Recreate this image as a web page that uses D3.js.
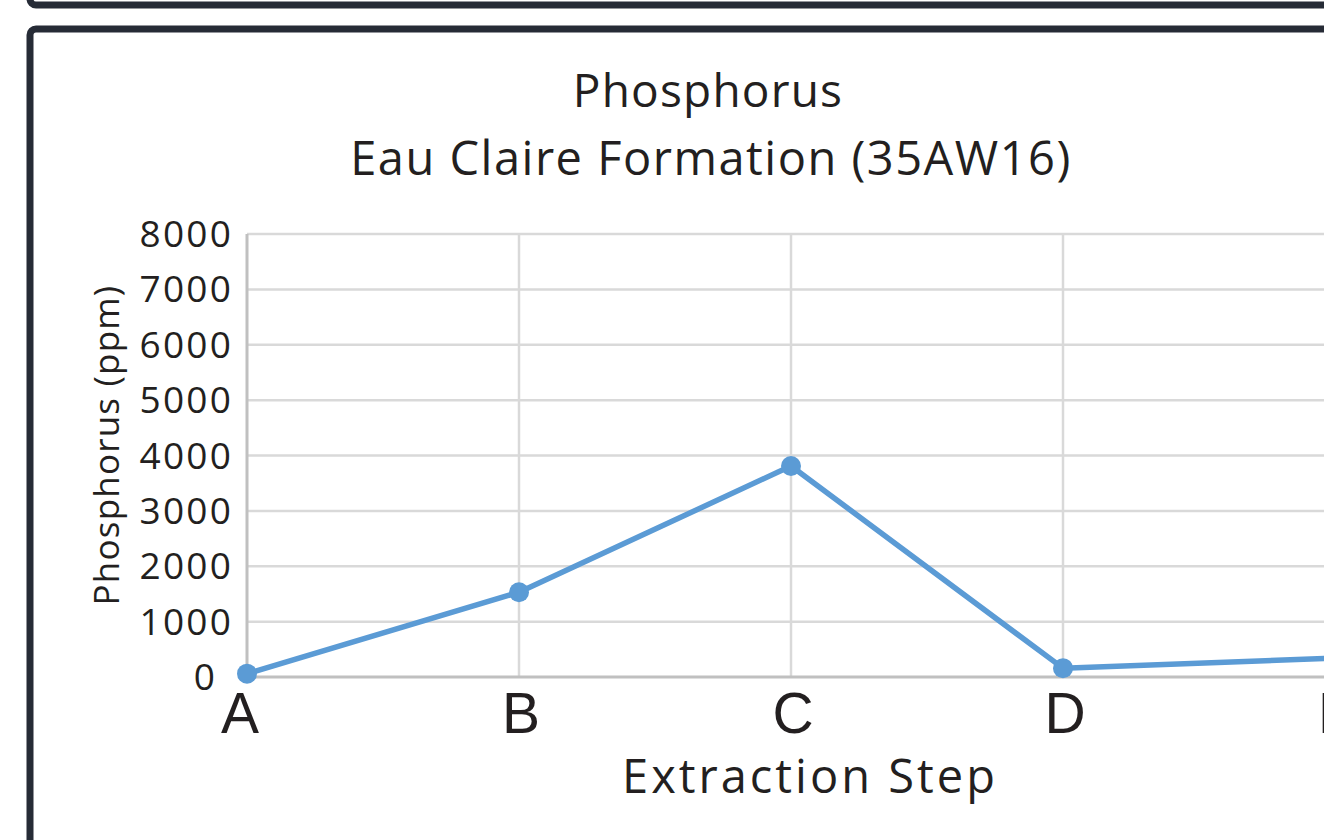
<!DOCTYPE html>
<html>
<head>
<meta charset="utf-8">
<script src="https://cdn.jsdelivr.net/npm/d3@7"></script>
<style>
  body { margin: 0; background: #fff; }
  svg { display: block; }
</style>
</head>
<body>
<svg id="chart" width="1324" height="840"></svg>
<script>
var steps = ["A", "B", "C", "D", "E"];
var phosphorus = [60, 1530, 3810, 160, 340];
var yTicks = [0, 1000, 2000, 3000, 4000, 5000, 6000, 7000, 8000];

var svg = d3.select("#chart");

// frames (previous panel's bottom edge + this panel)
svg.append("rect")
  .attr("x", 30).attr("y", -200)
  .attr("width", 1400).attr("height", 205)
  .attr("rx", 6)
  .attr("fill", "none")
  .attr("stroke", "#262b36")
  .attr("stroke-width", 7);

svg.append("rect")
  .attr("x", 30).attr("y", 29)
  .attr("width", 1400).attr("height", 900)
  .attr("rx", 6)
  .attr("fill", "none")
  .attr("stroke", "#262b36")
  .attr("stroke-width", 7);

var x = d3.scalePoint().domain(steps).range([247, 1335]);
var y = d3.scaleLinear().domain([0, 8000]).range([677, 234]);

var font = "'Open Sans', sans-serif";
var ink = "#231f20";

// horizontal gridlines
svg.append("g").selectAll("line")
  .data(yTicks.filter(function(d){ return d > 0; }))
  .join("line")
  .attr("x1", x("A")).attr("x2", 1324)
  .attr("y1", function(d){ return y(d); })
  .attr("y2", function(d){ return y(d); })
  .attr("stroke", "#d9d9d9")
  .attr("stroke-width", 2.5);

// vertical gridlines
svg.append("g").selectAll("line")
  .data(steps.slice(1))
  .join("line")
  .attr("x1", function(d){ return x(d); })
  .attr("x2", function(d){ return x(d); })
  .attr("y1", y(8000)).attr("y2", y(0))
  .attr("stroke", "#d9d9d9")
  .attr("stroke-width", 2.5);

// axis lines
svg.append("line")
  .attr("x1", x("A")).attr("x2", x("A"))
  .attr("y1", y(8000)).attr("y2", y(0))
  .attr("stroke", "#c0c0c0").attr("stroke-width", 3);
svg.append("line")
  .attr("x1", x("A")).attr("x2", 1324)
  .attr("y1", y(0)).attr("y2", y(0))
  .attr("stroke", "#c0c0c0").attr("stroke-width", 3);

// y tick labels
svg.append("g").selectAll("text")
  .data(yTicks)
  .join("text")
  .attr("x", function(d){ return d === 0 ? 217 : 233; })
  .attr("y", function(d){ return y(d) + 13; })
  .attr("text-anchor", "end")
  .attr("font-family", font)
  .attr("font-size", 37)
  .attr("letter-spacing", 2.2)
  .attr("fill", ink)
  .text(function(d){ return d; });

// x category labels
svg.append("g").selectAll("text")
  .data(steps)
  .join("text")
  .attr("x", function(d){ return x(d) + (d === "A" ? -7 : 2); })
  .attr("y", 733)
  .attr("text-anchor", "middle")
  .attr("font-family", "'Liberation Sans', Arial, sans-serif")
  .attr("font-size", 57)
  .attr("fill", ink)
  .text(function(d){ return d; });

// series line
var line = d3.line()
  .x(function(d, i){ return x(steps[i]); })
  .y(function(d){ return y(d); });

svg.append("path")
  .datum(phosphorus)
  .attr("d", line)
  .attr("fill", "none")
  .attr("stroke", "#5b9bd5")
  .attr("stroke-width", 5.5)
  .attr("stroke-linejoin", "round");

svg.append("g").selectAll("circle")
  .data(phosphorus)
  .join("circle")
  .attr("cx", function(d, i){ return x(steps[i]); })
  .attr("cy", function(d){ return y(d); })
  .attr("r", 10)
  .attr("fill", "#5b9bd5");

// titles
svg.append("text")
  .attr("x", 708).attr("y", 107)
  .attr("text-anchor", "middle")
  .attr("font-family", font).attr("font-size", 46)
  .attr("letter-spacing", 1.2)
  .attr("fill", ink)
  .text("Phosphorus");
svg.append("text")
  .attr("x", 711).attr("y", 175)
  .attr("text-anchor", "middle")
  .attr("font-family", font).attr("font-size", 47)
  .attr("letter-spacing", 1.5)
  .attr("fill", ink)
  .text("Eau Claire Formation (35AW16)");

svg.append("text")
  .attr("x", 810).attr("y", 793)
  .attr("text-anchor", "middle")
  .attr("font-family", font).attr("font-size", 47)
  .attr("letter-spacing", 3)
  .attr("fill", ink)
  .text("Extraction Step");

svg.append("text")
  .attr("transform", "translate(119,445) rotate(-90)")
  .attr("text-anchor", "middle")
  .attr("font-family", font).attr("font-size", 35)
  .attr("letter-spacing", 1.2)
  .attr("fill", ink)
  .text("Phosphorus (ppm)");
</script>
</body>
</html>
